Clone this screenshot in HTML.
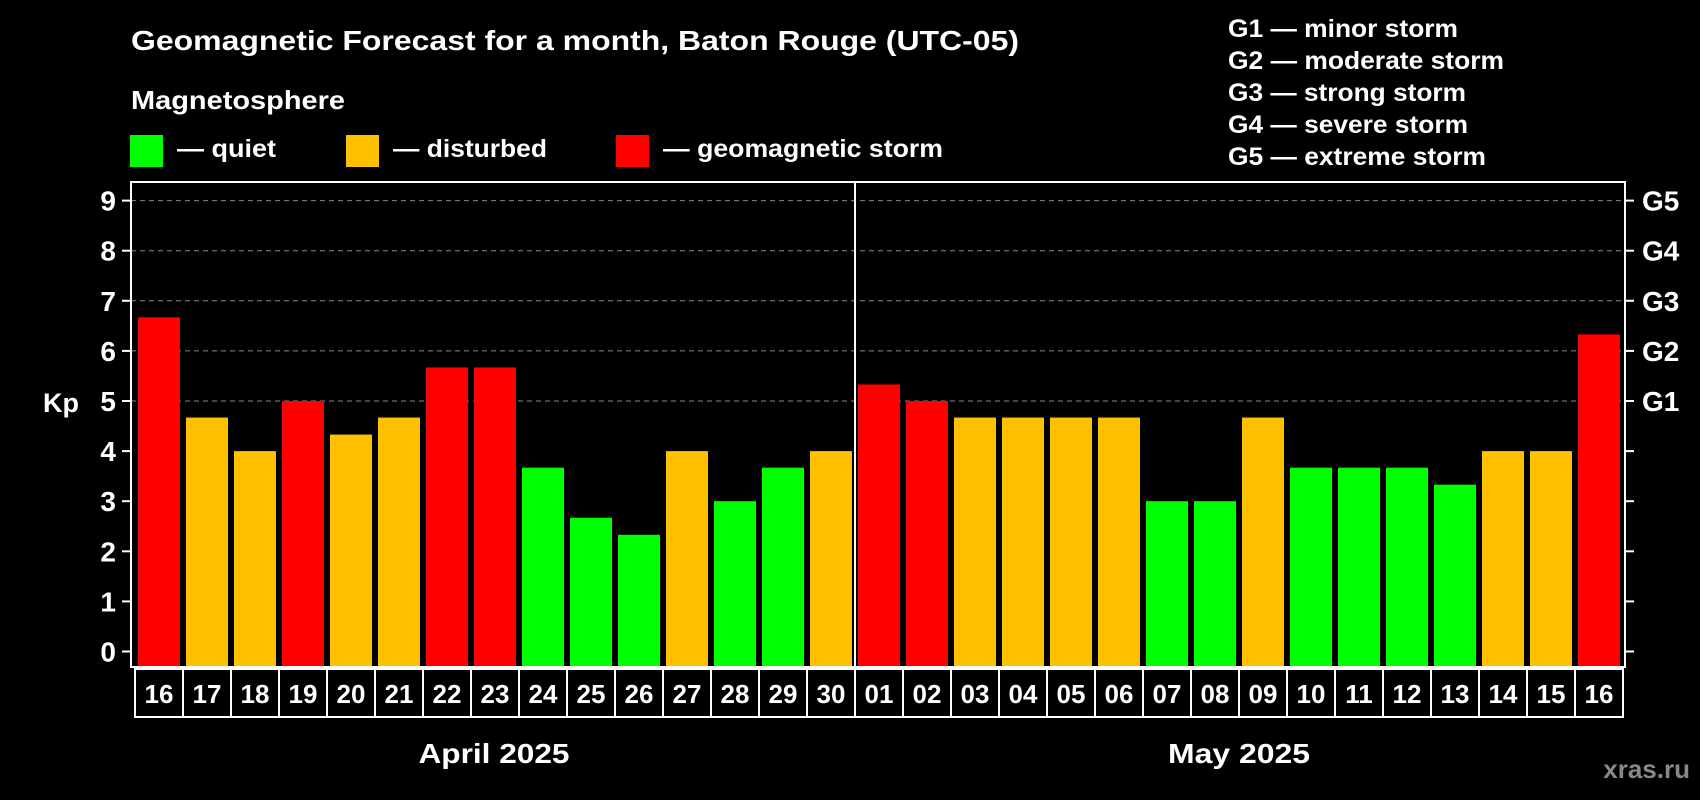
<!DOCTYPE html>
<html><head><meta charset="utf-8"><style>
html,body{margin:0;padding:0;background:#000;width:1700px;height:800px;overflow:hidden}
svg{display:block}
text{font-family:"Liberation Sans",Arial,sans-serif;font-weight:bold;fill:#fff}
</style></head><body>
<svg id="chart" width="1700" height="800" viewBox="0 0 1700 800">
<text x="131" y="50" font-size="28" textLength="888" lengthAdjust="spacingAndGlyphs">Geomagnetic Forecast for a month, Baton Rouge (UTC-05)</text>
<text x="131" y="109" font-size="26" textLength="214" lengthAdjust="spacingAndGlyphs">Magnetosphere</text>
<rect x="130" y="135" width="33" height="32" fill="#00ff00"/>
<text x="177" y="157" font-size="25" textLength="99" lengthAdjust="spacingAndGlyphs">— quiet</text>
<rect x="346" y="135" width="33" height="32" fill="#ffc000"/>
<text x="393" y="157" font-size="25" textLength="154" lengthAdjust="spacingAndGlyphs">— disturbed</text>
<rect x="616" y="135" width="33" height="32" fill="#ff0000"/>
<text x="663" y="157" font-size="25" textLength="280" lengthAdjust="spacingAndGlyphs">— geomagnetic storm</text>
<g>
<text x="1228" y="37" font-size="25" textLength="230" lengthAdjust="spacingAndGlyphs">G1 — minor storm</text>
<text x="1228" y="69" font-size="25" textLength="276" lengthAdjust="spacingAndGlyphs">G2 — moderate storm</text>
<text x="1228" y="101" font-size="25" textLength="238" lengthAdjust="spacingAndGlyphs">G3 — strong storm</text>
<text x="1228" y="133" font-size="25" textLength="240" lengthAdjust="spacingAndGlyphs">G4 — severe storm</text>
<text x="1228" y="165" font-size="25" textLength="258" lengthAdjust="spacingAndGlyphs">G5 — extreme storm</text>
</g>
<text x="43" y="412" font-size="27">Kp</text>
<g id="grid"></g>
<g id="bars"></g>
<g id="axes"></g>
<text x="494" y="763" font-size="28" text-anchor="middle" textLength="151" lengthAdjust="spacingAndGlyphs">April 2025</text>
<text x="1239" y="763" font-size="28" text-anchor="middle" textLength="142" lengthAdjust="spacingAndGlyphs">May 2025</text>
<text x="1690" y="778" font-size="26" text-anchor="end" style="fill:#888">xras.ru</text>
</svg>
<script>
const days = ["16","17","18","19","20","21","22","23","24","25","26","27","28","29","30","01","02","03","04","05","06","07","08","09","10","11","12","13","14","15","16"];
const kpValues = [6.67,4.67,4,5,4.33,4.67,5.67,5.67,3.67,2.67,2.33,4,3,3.67,4,5.33,5,4.67,4.67,4.67,4.67,3,3,4.67,3.67,3.67,3.67,3.33,4,4,6.33];
const yTicks = [0,1,2,3,4,5,6,7,8,9];
const gLabels = ["G1","G2","G3","G4","G5"];
const gLevels = [5,6,7,8,9];
const monthSplitIndex = 15;

const NS="http://www.w3.org/2000/svg";
const plotL=131, plotR=1625, plotT=182, plotB=667;
const y0=651.5, unit=(651.5-200.6)/9;
function yScale(v){return y0-v*unit;}
const pitch=48, barW=42, barX0=138;
function xScale(i){return barX0+i*pitch;}
function mk(tag,attrs,parent){const e=document.createElementNS(NS,tag);for(const k in attrs)e.setAttribute(k,attrs[k]);parent.appendChild(e);return e;}
const grid=document.getElementById('grid'), bars=document.getElementById('bars'), axes=document.getElementById('axes');

gLevels.forEach((v,i)=>{
  const l=mk('line',{x1:plotL,x2:plotR,y1:yScale(v),y2:yScale(v),stroke:'#888','stroke-width':1,'stroke-dasharray':'5,4'},grid);
  
  
  const t=mk('text',{x:1642,y:yScale(v)+10,'font-size':28},axes);
  t.textContent=gLabels[i];
  
  
});

kpValues.forEach((v,i)=>{
  const c=v>=5?'#ff0000':(v>=4?'#ffc000':'#00ff00');
  const r=mk('rect',{x:xScale(i),y:yScale(v),width:barW,height:plotB-1-yScale(v),fill:c},bars);
  
  
  const b=mk('rect',{x:135+i*pitch,y:669,width:pitch,height:48,fill:'none',stroke:'#fff','stroke-width':2},axes);
  
  
  const t=mk('text',{x:135+i*pitch+pitch/2,y:703,'font-size':26,'text-anchor':'middle'},axes);
  t.textContent=days[i];
  
  
});

yTicks.forEach(v=>{
  const y=yScale(v);
  const tl=mk('line',{x1:122,x2:plotL,y1:y,y2:y,stroke:'#fff','stroke-width':2},axes);
  
  
  const tr=mk('line',{x1:plotR,x2:1634,y1:y,y2:y,stroke:'#fff','stroke-width':2},axes);
  
  
  const t=mk('text',{x:116,y:y+10,'font-size':28,'text-anchor':'end'},axes);
  t.textContent=String(v);
  
  
});

const frame=mk('rect',{x:plotL,y:plotT,width:plotR-plotL,height:plotB-plotT,fill:'none',stroke:'#fff','stroke-width':2},axes);


const sx=135+monthSplitIndex*pitch;
const sep=mk('line',{x1:sx,x2:sx,y1:plotT,y2:plotB,stroke:'#fff','stroke-width':2},axes);


</script>
</body></html>
